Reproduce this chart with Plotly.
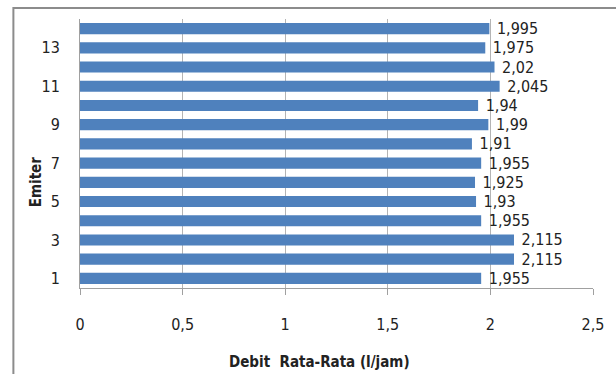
import plotly.graph_objects as go

emiter = list(range(1, 15))
debit = [1.955, 2.115, 2.115, 1.955, 1.93, 1.925, 1.955, 1.91, 1.99, 1.94, 2.045, 2.02, 1.975, 1.995]
y_ticks = [1, 3, 5, 7, 9, 11, 13]
x_ticks = [0, 0.5, 1, 1.5, 2, 2.5]
x_ticktext = ["0", "0,5", "1", "1,5", "2", "2,5"]
labels = [" " + (f"{v:g}").replace(".", ",") for v in debit]

FONT = "DejaVu Sans Condensed, Liberation Sans Narrow, sans-serif"
FS = 16

fig = go.Figure(go.Bar(
    x=debit, y=emiter, orientation="h",
    marker=dict(color="#4F81BD", line=dict(width=0)),
    width=0.58,
    text=labels, textposition="outside", cliponaxis=False,
    constraintext="none",
    textfont=dict(family=FONT, size=FS, color="#222222"),
))

W, H = 616, 374
l, r, t, b = 80, 20, 19, 86
pw, ph = W - l - r, H - t - b

fig.update_layout(
    width=W, height=H,
    margin=dict(l=l, r=r, t=t, b=b),
    paper_bgcolor="white", plot_bgcolor="white",
    showlegend=False,
    font=dict(family=FONT, size=FS, color="#222222"),
    xaxis=dict(
        range=[0, 2.5], tickvals=x_ticks, ticktext=x_ticktext,
        showgrid=True, gridcolor="#B4B4B4", gridwidth=1,
        showline=True, linecolor="#A0A0A0", linewidth=1,
        ticks="outside", ticklen=6, tickcolor="#A0A0A0",
        ticklabelstandoff=16, zeroline=False,
        tickfont=dict(family=FONT, size=FS, color="#222222"),
    ),
    yaxis=dict(
        range=[0.5, 14.5], tickvals=y_ticks,
        showgrid=False, zeroline=False,
        showline=True, linecolor="#A0A0A0", linewidth=1,
        ticks="", ticklabelstandoff=16,
        tickfont=dict(family=FONT, size=FS, color="#222222"),
    ),
    annotations=[
        dict(text="<b>Debit  Rata-Rata (l/jam)</b>", xref="paper", yref="paper",
             x=(321 - l) / pw, y=-(362 - (t + ph)) / ph, xanchor="center", yanchor="middle",
             showarrow=False, font=dict(family=FONT, size=15, color="#222222")),
        dict(text="<b>Emiter</b>", xref="paper", yref="paper",
             x=(36 - l) / pw, y=1 - (182 - t) / ph, xanchor="center", yanchor="middle",
             textangle=-90, showarrow=False, font=dict(family=FONT, size=15, color="#222222")),
    ],
    shapes=[
        dict(type="rect", xref="paper", yref="paper",
             x0=(13 - l) / pw, x1=(640 - l) / pw, y0=-0.5, y1=1 + (t - 8) / ph,
             line=dict(color="#8C8C8C", width=2), fillcolor="rgba(0,0,0,0)", layer="below"),
    ],
)

fig.write_html("out.html")
